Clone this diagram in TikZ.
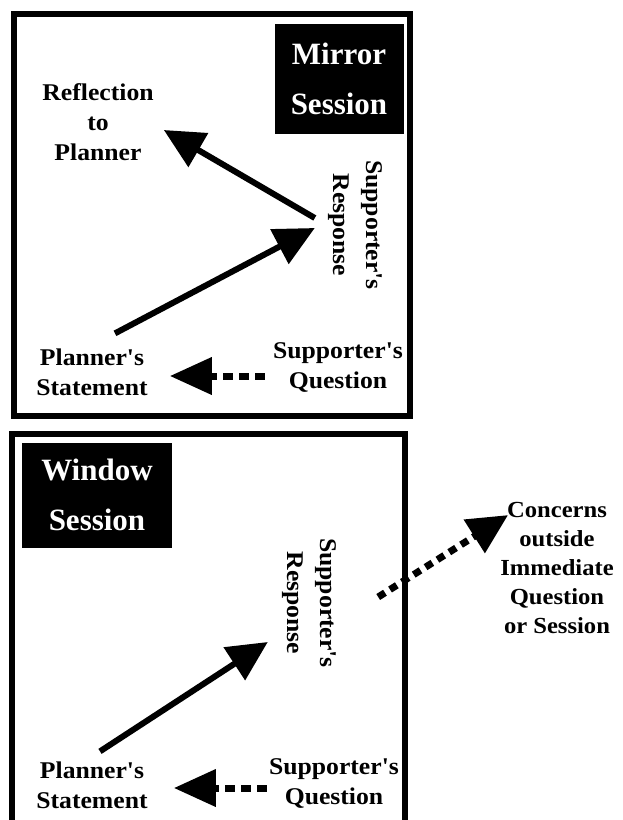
\documentclass[tikz,border=0pt]{standalone}
\usepackage{fontspec}
\setmainfont{Liberation Serif}
\newfontfamily\widefont[FakeStretch=1.07]{Liberation Serif}
\usetikzlibrary{arrows.meta}
\usetikzlibrary{positioning}

\tikzset{
  txt/.style={font=\widefont\fontsize{24}{30}\selectfont\bfseries, align=center, inner sep=0pt},
  rottxt/.style={font=\widefont\fontsize{24}{33}\selectfont\bfseries, align=center, inner sep=0pt, rotate=-90},
  sess/.style={fill=black, text=white, font=\fontsize{31}{50}\selectfont\bfseries, align=center, inner sep=0pt},
  frame/.style={line width=6pt},
  solidarr/.style={line width=6pt, -{Triangle[length=40pt,width=38pt]}},
  dasharr/.style={line width=7pt, dash pattern=on 10pt off 6pt, -{Triangle[length=42pt,width=36pt]}},
  dotarr/.style={line width=7pt, dash pattern=on 8pt off 6pt, -{Triangle[length=40pt,width=38pt]}}
}

\begin{document}
\begin{tikzpicture}[x=1pt,y=-1pt]
\useasboundingbox (0,0) rectangle (622,820);

% mirror session
\draw[frame] (14,14) rectangle (410,416);
\node[sess, minimum width=129pt, minimum height=110pt] (mirror) at (339,79) {Mirror\\Session};
\node[txt] (refl1) at (98,122) {Reflection\\to\\Planner};
\node[rottxt] (resp1) at (355,225) {Supporter's\\Response};
\node[txt] (stmt1) at (92,372) {Planner's\\Statement};
\node[txt] (quest1) at (338,367) {Supporter's\\Question};

\draw[solidarr] ([shift={(23,-15)}]stmt1.north) -- ([shift={(-13,3)}]resp1.south);
\draw[solidarr] ([shift={(-13,-7)}]resp1.south) -- ([shift={(10,8)}]refl1.east);
\draw[dasharr] ([shift={(-8,9)}]quest1.west) -- ([shift={(22,4)}]stmt1.east);

% window session
\draw[frame] (12,820) -- (12,434) -- (405,434) -- (405,820);
\node[sess, minimum width=150pt, minimum height=105pt] (window) at (97,495) {Window\\Session};
\node[rottxt] (resp2) at (309,603) {Supporter's\\Response};
\node[txt, font=\widefont\fontsize{23}{29}\selectfont\bfseries] (concern) at (557,568) {Concerns\\outside\\Immediate\\Question\\or Session};
\node[txt] (stmt2) at (92,785) {Planner's\\Statement};
\node[txt] (quest2) at (334,783) {Supporter's\\Question};

\draw[solidarr] ([shift={(8,-10)}]stmt2.north) -- ([shift={(-14,39)}]resp2.south);
\draw[dotarr] ([shift={(42,-6)}]resp2.north) -- ([shift={(8,13)}]concern.north west);
\draw[dasharr] ([shift={(-2,5)}]quest2.west) -- ([shift={(26,3)}]stmt2.east);

\end{tikzpicture}
\end{document}
